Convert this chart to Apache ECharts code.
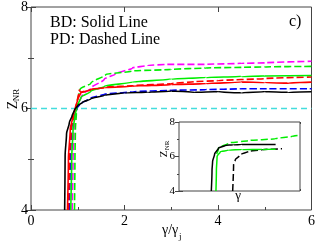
<!DOCTYPE html>
<html>
<head>
<meta charset="utf-8">
<script src="https://cdn.jsdelivr.net/npm/echarts@6/dist/echarts.min.js"></script>
<style>
  html, body { margin: 0; padding: 0; background: #fff; }
  #chart { width: 318px; height: 247px; }
</style>
</head>
<body>
<div id="chart"></div>
<script>
// ---------- Main panel data (x = gamma/gamma_j, y = Z_NR) ----------
const xTicksMain = [0, 2, 4, 6];
const yTicksMain = [4, 6, 8];
const thresholdY = 6;

// Solid lines (BD)
const bdBlack = [[0.72,4],[0.73,5.07],[0.76,5.5],[0.82,5.72],[0.88,5.86],[0.93,5.97],[1.0,6.06],[1.1,6.12],[1.28,6.19],[1.57,6.26],[2.0,6.31],[2.5,6.32],[3.0,6.34],[3.5,6.32],[4.0,6.33],[4.5,6.31],[5.0,6.33],[5.5,6.32],[6.0,6.33]];
const bdRed = [[0.78,4],[0.80,5.0],[0.84,5.6],[0.89,5.82],[0.95,6.02],[1.0,6.18],[1.06,6.3],[1.28,6.38],[1.57,6.41],[2.17,6.44],[3.0,6.47],[3.74,6.49],[4.5,6.52],[5.0,6.51],[5.5,6.50],[6.0,6.52]];
const bdGreen = [[0.85,4],[0.87,5.0],[0.90,5.6],[0.94,5.85],[0.98,6.03],[1.07,6.22],[1.28,6.34],[1.57,6.44],[2.17,6.52],[3.0,6.58],[3.74,6.61],[4.5,6.63],[5.0,6.64],[6.0,6.65]];

// Dashed lines (PD)
const pdRed = [[0.80,4],[0.82,5.0],[0.86,5.6],[0.91,5.85],[0.97,6.05],[1.03,6.36],[1.07,6.32],[1.3,6.37],[1.6,6.42],[2.2,6.45],[3.0,6.49],[3.5,6.53],[4.0,6.55],[5.0,6.59],[6.0,6.62]];
const pdBlue = [[0.82,4],[0.84,5.0],[0.87,5.6],[0.92,5.85],[0.98,6.0],[1.04,6.08],[1.28,6.21],[1.57,6.28],[2.17,6.33],[3.0,6.36],[3.74,6.37],[4.5,6.39],[5.0,6.39],[6.0,6.39]];
const pdGreen = [[0.93,4],[0.94,5.0],[0.95,5.6],[0.97,5.9],[1.0,6.18],[1.05,6.38],[1.28,6.5],[1.6,6.67],[2.17,6.74],[3.0,6.77],[3.74,6.80],[4.5,6.81],[5.0,6.82],[6.0,6.83]];
const pdMagenta = [[0.88,4],[0.90,5.0],[0.92,5.6],[0.95,5.85],[0.99,6.05],[1.1,6.28],[1.28,6.4],[1.57,6.58],[1.8,6.68],[2.17,6.80],[2.5,6.85],[2.9,6.87],[3.74,6.87],[4.5,6.89],[5.0,6.90],[6.0,6.93]];

// ---------- Inset data (x = gamma, log axis; y = Z_NR) ----------
const insetYTicks = [4, 6, 8];
const insetDecades = [10, 100];
const insetMinor = [2,3,4,5,6,7,8,9,20,30,40,50,60,70,80,90,200,300,400,500,600,700,800];
const insetBlackSolid = [[5.96,4],[6.2,5.2],[6.4,5.71],[7.16,6.14],[8.9,6.49],[12.9,6.64],[20,6.68],[32.5,6.69],[100,6.69],[208,6.69]];
const insetGreenSolid = [[7.7,4],[7.9,5.2],[8.2,6.0],[9.8,6.28],[15.5,6.37],[32.5,6.40],[100,6.41],[208,6.42]];
const insetGreenDashed = [[8.0,6.15],[8.9,6.5],[15.5,6.78],[46.8,6.92],[204,7.03],[515,7.17],[800,7.23]];
const insetBlackDashed = [[19.4,4],[20.4,5.52],[22.4,5.81],[29.6,6.1],[46.8,6.3],[98,6.39],[296,6.45]];

const SERIF = 'Liberation Serif';
const FRAME = '#444';

function lineSeries(data, color, dashed, xi, yi, w) {
  return {
    type: 'line', data: data, xAxisIndex: xi, yAxisIndex: yi,
    showSymbol: false, symbol: 'none', smooth: 0.25, smoothMonotone: 'y', silent: true,
    lineStyle: { color: color, width: w || 1.6, type: dashed ? [7, 3] : 'solid' }
  };
}

function tickAxis(opts) {
  return Object.assign({
    type: 'value', splitLine: { show: false },
    axisLine: { show: false }, axisLabel: { show: false }
  }, opts);
}

function txt(extra, text, size) {
  return Object.assign({ type: 'text', style: { text: text, fontFamily: SERIF, fontSize: size, fill: '#000' } }, extra);
}
function txtC(extra, text, size, align) {
  return Object.assign({ type: 'text', style: { text: text, fontFamily: SERIF, fontSize: size, fill: '#000', align: align || 'center', verticalAlign: 'middle' } }, extra);
}

const option = {
  animation: false,
  backgroundColor: '#fff',
  textStyle: { fontFamily: SERIF },
  grid: [
    { left: 31, top: 5, right: 5, bottom: 37, show: true, borderColor: FRAME, borderWidth: 1, backgroundColor: 'transparent' },
    { left: 179, top: 122, right: 18, bottom: 56, show: true, borderColor: FRAME, borderWidth: 1, backgroundColor: '#fff', z: 3 }
  ],
  xAxis: [
    tickAxis({ gridIndex: 0, min: xTicksMain[0], max: xTicksMain[xTicksMain.length-1], interval: 2, position: 'bottom',
      axisTick: { show: true, inside: true, length: 5, lineStyle: { color: FRAME } },
      minorTick: { show: true, splitNumber: 2, length: 3, lineStyle: { color: FRAME } },
      axisLabel: { show: true, margin: 4, fontFamily: SERIF, fontSize: 14, color: '#000' } }),
    tickAxis({ gridIndex: 0, min: 0, max: 6, interval: 2, position: 'top',
      axisTick: { show: true, inside: true, length: 5, lineStyle: { color: FRAME } } }),
    { type: 'log', logBase: 10, gridIndex: 1, min: 1, max: 800, show: false },
    tickAxis({ gridIndex: 1, min: 0, max: Math.log10(800), position: 'bottom',
      axisTick: { show: true, inside: true, length: 4, customValues: insetDecades.map(Math.log10), lineStyle: { color: FRAME } } }),
    tickAxis({ gridIndex: 1, min: 0, max: Math.log10(800), position: 'bottom',
      axisTick: { show: true, inside: true, length: 2, customValues: insetMinor.map(Math.log10), lineStyle: { color: FRAME } } }),
    tickAxis({ gridIndex: 1, min: 0, max: Math.log10(800), position: 'top',
      axisTick: { show: true, inside: true, length: 4, customValues: insetDecades.map(Math.log10), lineStyle: { color: FRAME } } }),
    tickAxis({ gridIndex: 1, min: 0, max: Math.log10(800), position: 'top',
      axisTick: { show: true, inside: true, length: 2, customValues: insetMinor.map(Math.log10), lineStyle: { color: FRAME } } })
  ],
  yAxis: [
    tickAxis({ gridIndex: 0, min: yTicksMain[0], max: yTicksMain[yTicksMain.length-1], interval: 2, position: 'left',
      axisTick: { show: true, inside: true, length: 5, lineStyle: { color: FRAME } },
      minorTick: { show: true, splitNumber: 2, length: 3, lineStyle: { color: FRAME } },
      axisLabel: { show: true, margin: 3, fontFamily: SERIF, fontSize: 14, color: '#000' } }),
    tickAxis({ gridIndex: 0, min: 4, max: 8, interval: 2, position: 'right',
      axisTick: { show: true, inside: true, length: 5, lineStyle: { color: FRAME } },
      minorTick: { show: true, splitNumber: 2, length: 3, lineStyle: { color: FRAME } } }),
    tickAxis({ gridIndex: 1, min: insetYTicks[0], max: insetYTicks[insetYTicks.length-1], interval: 2, position: 'left',
      axisTick: { show: true, inside: true, length: 4, lineStyle: { color: FRAME } },
      minorTick: { show: true, splitNumber: 2, length: 2, lineStyle: { color: FRAME } },
      axisLabel: { show: true, margin: 4, fontFamily: SERIF, fontSize: 11, color: '#000' } }),
    tickAxis({ gridIndex: 1, min: 4, max: 8, interval: 2, position: 'right',
      axisTick: { show: true, inside: true, length: 4, lineStyle: { color: FRAME } },
      minorTick: { show: true, splitNumber: 2, length: 2, lineStyle: { color: FRAME } } })
  ],
  series: [
    { type: 'line', data: [[0, thresholdY], [6, thresholdY]], xAxisIndex: 0, yAxisIndex: 0, showSymbol: false, symbol: 'none', silent: true,
      lineStyle: { color: '#44dddd', width: 1.6, type: [6, 4] } },
    lineSeries(pdMagenta, '#ff00ff', true, 0, 0),
    lineSeries(pdGreen, '#00ee00', true, 0, 0),
    lineSeries(pdBlue, '#0000ff', true, 0, 0),
    lineSeries(pdRed, '#ff0000', true, 0, 0),
    lineSeries(bdGreen, '#00ee00', false, 0, 0),
    lineSeries(bdRed, '#ff0000', false, 0, 0),
    lineSeries(bdBlack, '#000000', false, 0, 0),
    Object.assign(lineSeries(insetGreenDashed, '#00ee00', true, 2, 2, 1.5), { z: 4 }),
    Object.assign(lineSeries(insetBlackDashed, '#000000', true, 2, 2, 1.5), { z: 4 }),
    Object.assign(lineSeries(insetGreenSolid, '#00ee00', false, 2, 2, 1.5), { z: 4 }),
    Object.assign(lineSeries(insetBlackSolid, '#000000', false, 2, 2, 1.5), { z: 4 })
  ],
  graphic: [
    txt({ left: 50, top: 15 }, 'BD: Solid Line', 16),
    txt({ left: 50, top: 32 }, 'PD: Dashed Line', 16),
    txt({ left: 289, top: 14 }, 'c)', 16),
    // main y title Z_NR (rotated)
    txtC({ x: 13, y: 105, rotation: Math.PI / 2 }, 'Z', 14),
    txtC({ x: 17, y: 95, rotation: Math.PI / 2 }, 'NR', 9),
    // main x title gamma/gamma_j
    txtC({ x: 162, y: 230 }, 'γ/γ', 14, 'left'),
    txtC({ x: 179, y: 237 }, 'j', 9, 'left'),
    // inset titles
    txtC({ x: 164, y: 154, rotation: Math.PI / 2 }, 'Z', 11),
    txtC({ x: 167, y: 145.5, rotation: Math.PI / 2 }, 'NR', 7),
    txtC({ x: 238, y: 196 }, 'γ', 13)
  ]
};

const chart = echarts.init(document.getElementById('chart'), null, { renderer: 'canvas' });
chart.setOption(option);
</script>
</body>
</html>
